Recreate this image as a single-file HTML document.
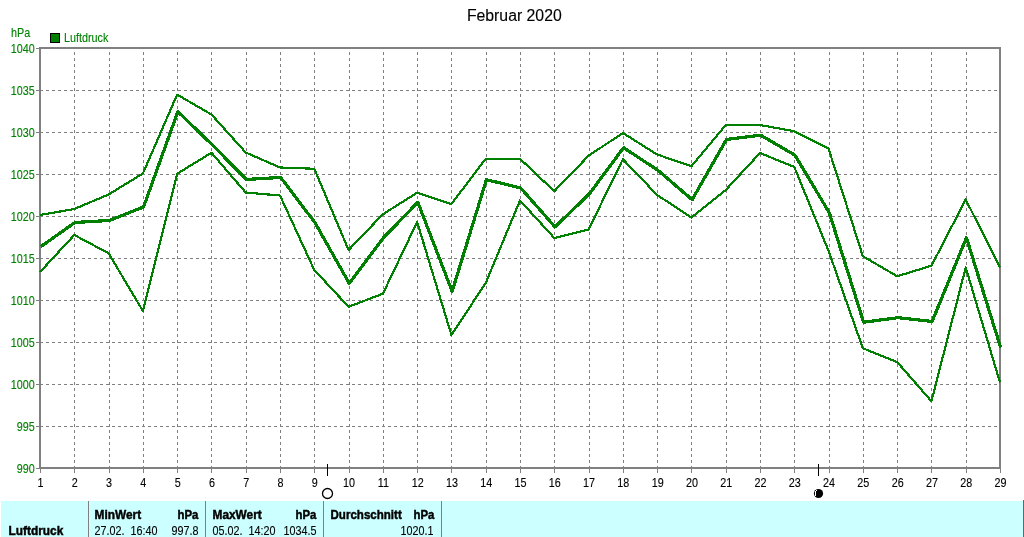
<!DOCTYPE html>
<html><head><meta charset="utf-8"><title>Februar 2020</title>
<style>
html,body{margin:0;padding:0;background:#fff;}
body{width:1024px;height:537px;overflow:hidden;font-family:"Liberation Sans",Arial,sans-serif;}
svg{display:block;position:absolute;left:0;top:0;}
text{font-family:"Liberation Sans",Arial,sans-serif;font-size:11px;}
.g{fill:#008000;stroke:#008000;}
text{stroke:#000;stroke-width:0.12px;}
.b{stroke-width:0.45px;}
.b{font-weight:bold;}
</style></head><body>
<svg width="1024" height="537" viewBox="0 0 1024 537">
<rect x="0" y="0" width="1024" height="537" fill="#fff"/>

<rect x="1" y="501" width="1023" height="36" fill="#ccffff"/>
<g shape-rendering="crispEdges" stroke="#808080" stroke-width="1">
<line x1="88.5" y1="501" x2="88.5" y2="537"/>
<line x1="205.5" y1="501" x2="205.5" y2="537"/>
<line x1="323.5" y1="501" x2="323.5" y2="537"/>
<line x1="441.5" y1="501" x2="441.5" y2="537"/>
<line x1="1023.5" y1="500" x2="1023.5" y2="537" stroke="#6a6468"/>
</g>
<g shape-rendering="crispEdges" stroke="#808080" stroke-width="1" stroke-dasharray="3,3" fill="none">
<line x1="74.5" y1="49" x2="74.5" y2="467" stroke-dashoffset="3"/>
<line x1="109.5" y1="49" x2="109.5" y2="467" stroke-dashoffset="3"/>
<line x1="143.5" y1="49" x2="143.5" y2="467" stroke-dashoffset="3"/>
<line x1="177.5" y1="49" x2="177.5" y2="467" stroke-dashoffset="3"/>
<line x1="211.5" y1="49" x2="211.5" y2="467" stroke-dashoffset="3"/>
<line x1="246.5" y1="49" x2="246.5" y2="467" stroke-dashoffset="3"/>
<line x1="280.5" y1="49" x2="280.5" y2="467" stroke-dashoffset="3"/>
<line x1="314.5" y1="49" x2="314.5" y2="467" stroke-dashoffset="3"/>
<line x1="349.5" y1="49" x2="349.5" y2="467" stroke-dashoffset="3"/>
<line x1="383.5" y1="49" x2="383.5" y2="467" stroke-dashoffset="3"/>
<line x1="417.5" y1="49" x2="417.5" y2="467" stroke-dashoffset="3"/>
<line x1="451.5" y1="49" x2="451.5" y2="467" stroke-dashoffset="3"/>
<line x1="486.5" y1="49" x2="486.5" y2="467" stroke-dashoffset="3"/>
<line x1="520.5" y1="49" x2="520.5" y2="467" stroke-dashoffset="3"/>
<line x1="554.5" y1="49" x2="554.5" y2="467" stroke-dashoffset="3"/>
<line x1="589.5" y1="49" x2="589.5" y2="467" stroke-dashoffset="3"/>
<line x1="623.5" y1="49" x2="623.5" y2="467" stroke-dashoffset="3"/>
<line x1="657.5" y1="49" x2="657.5" y2="467" stroke-dashoffset="3"/>
<line x1="691.5" y1="49" x2="691.5" y2="467" stroke-dashoffset="3"/>
<line x1="726.5" y1="49" x2="726.5" y2="467" stroke-dashoffset="3"/>
<line x1="760.5" y1="49" x2="760.5" y2="467" stroke-dashoffset="3"/>
<line x1="794.5" y1="49" x2="794.5" y2="467" stroke-dashoffset="3"/>
<line x1="829.5" y1="49" x2="829.5" y2="467" stroke-dashoffset="3"/>
<line x1="863.5" y1="49" x2="863.5" y2="467" stroke-dashoffset="3"/>
<line x1="897.5" y1="49" x2="897.5" y2="467" stroke-dashoffset="3"/>
<line x1="931.5" y1="49" x2="931.5" y2="467" stroke-dashoffset="3"/>
<line x1="966.5" y1="49" x2="966.5" y2="467" stroke-dashoffset="3"/>
<line x1="40" y1="90.5" x2="999" y2="90.5"/>
<line x1="40" y1="132.5" x2="999" y2="132.5"/>
<line x1="40" y1="174.5" x2="999" y2="174.5"/>
<line x1="40" y1="216.5" x2="999" y2="216.5"/>
<line x1="40" y1="258.5" x2="999" y2="258.5"/>
<line x1="40" y1="300.5" x2="999" y2="300.5"/>
<line x1="40" y1="342.5" x2="999" y2="342.5"/>
<line x1="40" y1="384.5" x2="999" y2="384.5"/>
<line x1="40" y1="426.5" x2="999" y2="426.5"/>
</g>
<g shape-rendering="crispEdges" stroke="#808080" stroke-width="1" fill="none">
<line x1="40.5" y1="469" x2="40.5" y2="473"/>
<line x1="74.5" y1="469" x2="74.5" y2="473"/>
<line x1="109.5" y1="469" x2="109.5" y2="473"/>
<line x1="143.5" y1="469" x2="143.5" y2="473"/>
<line x1="177.5" y1="469" x2="177.5" y2="473"/>
<line x1="211.5" y1="469" x2="211.5" y2="473"/>
<line x1="246.5" y1="469" x2="246.5" y2="473"/>
<line x1="280.5" y1="469" x2="280.5" y2="473"/>
<line x1="314.5" y1="469" x2="314.5" y2="473"/>
<line x1="349.5" y1="469" x2="349.5" y2="473"/>
<line x1="383.5" y1="469" x2="383.5" y2="473"/>
<line x1="417.5" y1="469" x2="417.5" y2="473"/>
<line x1="451.5" y1="469" x2="451.5" y2="473"/>
<line x1="486.5" y1="469" x2="486.5" y2="473"/>
<line x1="520.5" y1="469" x2="520.5" y2="473"/>
<line x1="554.5" y1="469" x2="554.5" y2="473"/>
<line x1="589.5" y1="469" x2="589.5" y2="473"/>
<line x1="623.5" y1="469" x2="623.5" y2="473"/>
<line x1="657.5" y1="469" x2="657.5" y2="473"/>
<line x1="691.5" y1="469" x2="691.5" y2="473"/>
<line x1="726.5" y1="469" x2="726.5" y2="473"/>
<line x1="760.5" y1="469" x2="760.5" y2="473"/>
<line x1="794.5" y1="469" x2="794.5" y2="473"/>
<line x1="829.5" y1="469" x2="829.5" y2="473"/>
<line x1="863.5" y1="469" x2="863.5" y2="473"/>
<line x1="897.5" y1="469" x2="897.5" y2="473"/>
<line x1="931.5" y1="469" x2="931.5" y2="473"/>
<line x1="966.5" y1="469" x2="966.5" y2="473"/>
<line x1="1000.5" y1="469" x2="1000.5" y2="473"/>
<line x1="36" y1="48.5" x2="39" y2="48.5"/>
<line x1="36" y1="90.5" x2="39" y2="90.5"/>
<line x1="36" y1="132.5" x2="39" y2="132.5"/>
<line x1="36" y1="174.5" x2="39" y2="174.5"/>
<line x1="36" y1="216.5" x2="39" y2="216.5"/>
<line x1="36" y1="258.5" x2="39" y2="258.5"/>
<line x1="36" y1="300.5" x2="39" y2="300.5"/>
<line x1="36" y1="342.5" x2="39" y2="342.5"/>
<line x1="36" y1="384.5" x2="39" y2="384.5"/>
<line x1="36" y1="426.5" x2="39" y2="426.5"/>
<line x1="36" y1="468.5" x2="39" y2="468.5"/>
</g>
<rect x="40" y="48" width="960" height="420" fill="none" stroke="#808080" stroke-width="2" shape-rendering="crispEdges"/>
<g fill="none" stroke="#008000" stroke-linejoin="round" stroke-linecap="butt" shape-rendering="crispEdges">
<polyline stroke-width="2.2" points="40.00,215.00 74.29,209.00 108.57,194.50 142.86,173.50 177.14,94.60 211.43,114.50 245.71,152.50 280.00,167.50 314.29,168.75 348.57,250.00 382.86,214.25 417.14,192.75 451.43,204.00 485.71,158.75 520.00,158.75 554.29,191.25 588.57,155.75 622.86,133.00 657.14,154.50 691.43,166.25 725.71,125.00 760.00,125.00 794.29,131.25 828.57,148.75 862.86,256.25 897.14,276.25 931.43,265.75 965.71,199.50 1000.00,267.50"/>
<polyline stroke-width="2.2" points="40.00,272.00 74.29,235.00 108.57,253.25 142.86,311.00 177.14,173.75 211.43,152.75 245.71,192.50 280.00,195.50 314.29,270.00 348.57,306.75 382.86,293.75 417.14,222.00 451.43,335.00 485.71,283.00 520.00,200.50 554.29,238.00 588.57,229.50 622.86,159.25 657.14,195.00 691.43,217.50 725.71,190.00 760.00,153.00 794.29,167.00 828.57,251.00 862.86,348.25 897.14,362.00 931.43,401.25 965.71,267.50 1000.00,382.50"/>
<polyline stroke-width="3.2" transform="translate(0.7 0.2)" points="40.00,246.50 74.29,222.25 108.57,220.30 142.86,206.80 177.14,111.50 211.43,144.50 245.71,179.25 280.00,177.25 314.29,222.50 348.57,283.25 382.86,237.50 417.14,202.00 451.43,291.25 485.71,179.50 520.00,187.75 554.29,226.75 588.57,193.75 622.86,147.50 657.14,170.00 691.43,199.50 725.71,139.25 760.00,135.00 794.29,155.00 828.57,212.50 862.86,322.00 897.14,317.50 931.43,321.25 965.71,237.50 1000.00,347.50"/>
</g>
<g shape-rendering="crispEdges" stroke="#000" stroke-width="1"><line x1="327.5" y1="464" x2="327.5" y2="476"/><line x1="818.5" y1="464" x2="818.5" y2="476"/></g>
<circle cx="327.5" cy="493.5" r="5" fill="#fff" stroke="#000" stroke-width="1.3"/>
<circle cx="818.5" cy="493.5" r="4.6" fill="#000"/>
<rect x="815" y="491" width="1" height="5" fill="#fff" shape-rendering="crispEdges"/>
<rect x="816" y="490" width="1" height="1" fill="#fff" shape-rendering="crispEdges"/>
<text x="514.3" y="21" text-anchor="middle" style="font-size:15.8px">Februar 2020</text>
<text transform="translate(11.00 37.00) scale(0.863 1)" text-anchor="start" class="g" xml:space="preserve" style="font-size:12.5px">hPa</text>
<rect x="50.5" y="33.5" width="9" height="9" fill="#008000" stroke="#000" stroke-width="1" shape-rendering="crispEdges"/>
<text transform="translate(64.00 42.00) scale(0.863 1)" text-anchor="start" class="g" xml:space="preserve" style="font-size:12.5px">Luftdruck</text>
<text transform="translate(34.70 53.00) scale(0.863 1)" text-anchor="end" class="g" xml:space="preserve" style="font-size:12.5px">1040</text>
<text transform="translate(34.70 95.00) scale(0.863 1)" text-anchor="end" class="g" xml:space="preserve" style="font-size:12.5px">1035</text>
<text transform="translate(34.70 137.00) scale(0.863 1)" text-anchor="end" class="g" xml:space="preserve" style="font-size:12.5px">1030</text>
<text transform="translate(34.70 179.00) scale(0.863 1)" text-anchor="end" class="g" xml:space="preserve" style="font-size:12.5px">1025</text>
<text transform="translate(34.70 221.00) scale(0.863 1)" text-anchor="end" class="g" xml:space="preserve" style="font-size:12.5px">1020</text>
<text transform="translate(34.70 263.00) scale(0.863 1)" text-anchor="end" class="g" xml:space="preserve" style="font-size:12.5px">1015</text>
<text transform="translate(34.70 305.00) scale(0.863 1)" text-anchor="end" class="g" xml:space="preserve" style="font-size:12.5px">1010</text>
<text transform="translate(34.70 347.00) scale(0.863 1)" text-anchor="end" class="g" xml:space="preserve" style="font-size:12.5px">1005</text>
<text transform="translate(34.70 389.00) scale(0.863 1)" text-anchor="end" class="g" xml:space="preserve" style="font-size:12.5px">1000</text>
<text transform="translate(34.70 431.00) scale(0.863 1)" text-anchor="end" class="g" xml:space="preserve" style="font-size:12.5px">995</text>
<text transform="translate(34.70 473.00) scale(0.863 1)" text-anchor="end" class="g" xml:space="preserve" style="font-size:12.5px">990</text>
<text transform="translate(40.50 487.00) scale(0.863 1)" text-anchor="middle" class="" xml:space="preserve" style="font-size:12.5px">1</text>
<text transform="translate(74.79 487.00) scale(0.863 1)" text-anchor="middle" class="" xml:space="preserve" style="font-size:12.5px">2</text>
<text transform="translate(109.07 487.00) scale(0.863 1)" text-anchor="middle" class="" xml:space="preserve" style="font-size:12.5px">3</text>
<text transform="translate(143.36 487.00) scale(0.863 1)" text-anchor="middle" class="" xml:space="preserve" style="font-size:12.5px">4</text>
<text transform="translate(177.64 487.00) scale(0.863 1)" text-anchor="middle" class="" xml:space="preserve" style="font-size:12.5px">5</text>
<text transform="translate(211.93 487.00) scale(0.863 1)" text-anchor="middle" class="" xml:space="preserve" style="font-size:12.5px">6</text>
<text transform="translate(246.21 487.00) scale(0.863 1)" text-anchor="middle" class="" xml:space="preserve" style="font-size:12.5px">7</text>
<text transform="translate(280.50 487.00) scale(0.863 1)" text-anchor="middle" class="" xml:space="preserve" style="font-size:12.5px">8</text>
<text transform="translate(314.79 487.00) scale(0.863 1)" text-anchor="middle" class="" xml:space="preserve" style="font-size:12.5px">9</text>
<text transform="translate(349.07 487.00) scale(0.863 1)" text-anchor="middle" class="" xml:space="preserve" style="font-size:12.5px">10</text>
<text transform="translate(383.36 487.00) scale(0.863 1)" text-anchor="middle" class="" xml:space="preserve" style="font-size:12.5px">11</text>
<text transform="translate(417.64 487.00) scale(0.863 1)" text-anchor="middle" class="" xml:space="preserve" style="font-size:12.5px">12</text>
<text transform="translate(451.93 487.00) scale(0.863 1)" text-anchor="middle" class="" xml:space="preserve" style="font-size:12.5px">13</text>
<text transform="translate(486.21 487.00) scale(0.863 1)" text-anchor="middle" class="" xml:space="preserve" style="font-size:12.5px">14</text>
<text transform="translate(520.50 487.00) scale(0.863 1)" text-anchor="middle" class="" xml:space="preserve" style="font-size:12.5px">15</text>
<text transform="translate(554.79 487.00) scale(0.863 1)" text-anchor="middle" class="" xml:space="preserve" style="font-size:12.5px">16</text>
<text transform="translate(589.07 487.00) scale(0.863 1)" text-anchor="middle" class="" xml:space="preserve" style="font-size:12.5px">17</text>
<text transform="translate(623.36 487.00) scale(0.863 1)" text-anchor="middle" class="" xml:space="preserve" style="font-size:12.5px">18</text>
<text transform="translate(657.64 487.00) scale(0.863 1)" text-anchor="middle" class="" xml:space="preserve" style="font-size:12.5px">19</text>
<text transform="translate(691.93 487.00) scale(0.863 1)" text-anchor="middle" class="" xml:space="preserve" style="font-size:12.5px">20</text>
<text transform="translate(726.21 487.00) scale(0.863 1)" text-anchor="middle" class="" xml:space="preserve" style="font-size:12.5px">21</text>
<text transform="translate(760.50 487.00) scale(0.863 1)" text-anchor="middle" class="" xml:space="preserve" style="font-size:12.5px">22</text>
<text transform="translate(794.79 487.00) scale(0.863 1)" text-anchor="middle" class="" xml:space="preserve" style="font-size:12.5px">23</text>
<text transform="translate(829.07 487.00) scale(0.863 1)" text-anchor="middle" class="" xml:space="preserve" style="font-size:12.5px">24</text>
<text transform="translate(863.36 487.00) scale(0.863 1)" text-anchor="middle" class="" xml:space="preserve" style="font-size:12.5px">25</text>
<text transform="translate(897.64 487.00) scale(0.863 1)" text-anchor="middle" class="" xml:space="preserve" style="font-size:12.5px">26</text>
<text transform="translate(931.93 487.00) scale(0.863 1)" text-anchor="middle" class="" xml:space="preserve" style="font-size:12.5px">27</text>
<text transform="translate(966.21 487.00) scale(0.863 1)" text-anchor="middle" class="" xml:space="preserve" style="font-size:12.5px">28</text>
<text transform="translate(1000.50 487.00) scale(0.863 1)" text-anchor="middle" class="" xml:space="preserve" style="font-size:12.5px">29</text>
<text transform="translate(8.50 535.00) scale(0.950 1)" text-anchor="start" class="b" xml:space="preserve" style="font-size:12.5px">Luftdruck</text>
<text transform="translate(94.50 519.00) scale(0.950 1)" text-anchor="start" class="b" xml:space="preserve" style="font-size:12.5px">MinWert</text>
<text transform="translate(198.30 519.00) scale(0.910 1)" text-anchor="end" class="b" xml:space="preserve" style="font-size:12.5px">hPa</text>
<text transform="translate(94.50 535.00) scale(0.863 1)" text-anchor="start" class="" xml:space="preserve" style="font-size:12.5px">27.02.  16:40</text>
<text transform="translate(198.50 535.00) scale(0.863 1)" text-anchor="end" class="" xml:space="preserve" style="font-size:12.5px">997.8</text>
<text transform="translate(212.50 519.00) scale(0.950 1)" text-anchor="start" class="b" xml:space="preserve" style="font-size:12.5px">MaxWert</text>
<text transform="translate(316.30 519.00) scale(0.910 1)" text-anchor="end" class="b" xml:space="preserve" style="font-size:12.5px">hPa</text>
<text transform="translate(212.50 535.00) scale(0.863 1)" text-anchor="start" class="" xml:space="preserve" style="font-size:12.5px">05.02.  14:20</text>
<text transform="translate(316.50 535.00) scale(0.863 1)" text-anchor="end" class="" xml:space="preserve" style="font-size:12.5px">1034.5</text>
<text transform="translate(330.50 519.00) scale(0.925 1)" text-anchor="start" class="b" xml:space="preserve" style="font-size:12.5px">Durchschnitt</text>
<text transform="translate(434.30 519.00) scale(0.910 1)" text-anchor="end" class="b" xml:space="preserve" style="font-size:12.5px">hPa</text>
<text transform="translate(433.50 535.00) scale(0.863 1)" text-anchor="end" class="" xml:space="preserve" style="font-size:12.5px">1020.1</text>
</svg></body></html>
